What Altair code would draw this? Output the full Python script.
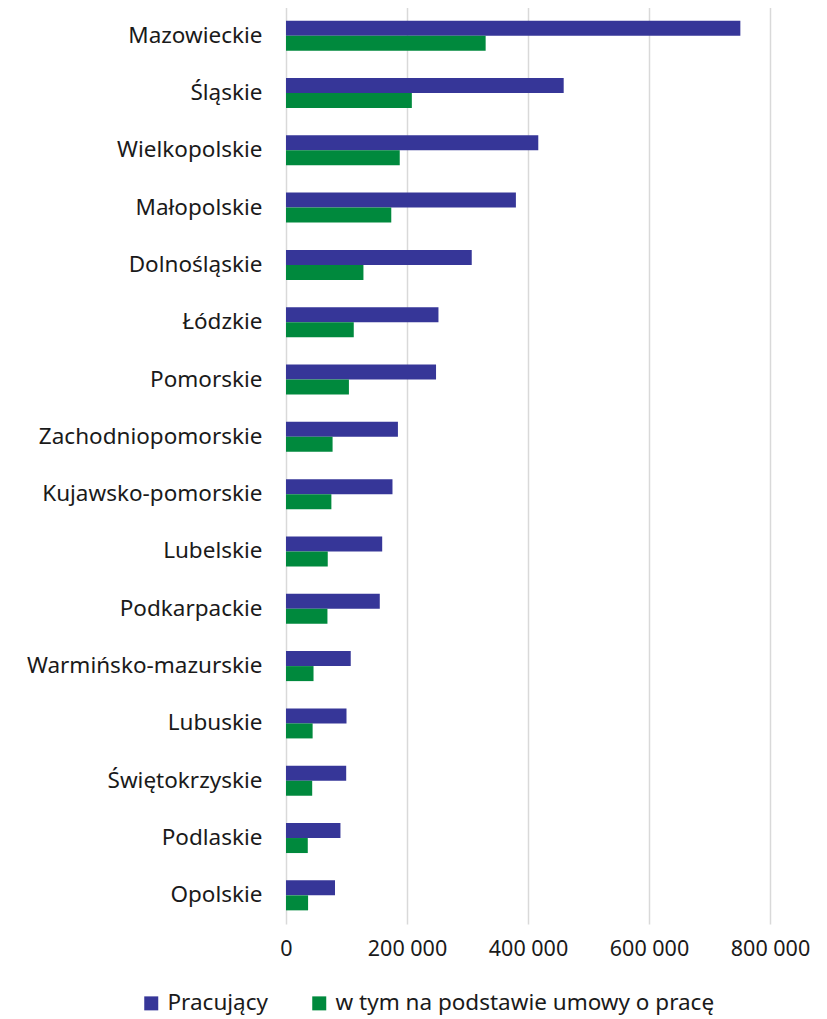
import altair as alt
import pandas as pd

regions = ["Mazowieckie", "Śląskie", "Wielkopolskie", "Małopolskie", "Dolnośląskie",
           "Łódzkie", "Pomorskie", "Zachodniopomorskie", "Kujawsko-pomorskie", "Lubelskie",
           "Podkarpackie", "Warmińsko-mazurskie", "Lubuskie", "Świętokrzyskie", "Podlaskie",
           "Opolskie"]
pracujacy = [751000, 459000, 417000, 380000, 307000, 252000, 248000, 185000, 176000,
             159000, 155000, 107000, 100000, 99500, 90000, 81000]
umowa = [330000, 208000, 188000, 174000, 128000, 112000, 104000, 77000, 75000,
         69000, 68500, 45500, 44000, 43300, 36000, 36500]
series = ["Pracujący", "w tym na podstawie umowy o pracę"]
colors = ["#363698", "#00893d"]
ticks = [0, 200000, 400000, 600000, 800000]

rows = []
for r, a, b in zip(regions, pracujacy, umowa):
    rows.append({"region": r, "series": series[0], "value": a})
    rows.append({"region": r, "series": series[1], "value": b})
df = pd.DataFrame(rows)

FONT = "Noto Sans"

chart = alt.Chart(df).mark_bar().encode(
    y=alt.Y("region:N", sort=regions, title=None,
            scale=alt.Scale(paddingInner=0.476, paddingOuter=0.238),
            axis=alt.Axis(domain=False, ticks=False, labelPadding=24, labelFontSize=22.5,
                          labelFont=FONT, labelColor="#1a1a1a", grid=False,
                          labelLimit=500)),
    yOffset=alt.YOffset("series:N", sort=series,
                        scale=alt.Scale(paddingInner=0, paddingOuter=0)),
    x=alt.X("value:Q", title=None,
            scale=alt.Scale(domain=[0, 800000], nice=False),
            axis=alt.Axis(values=ticks, domain=False, ticks=False, grid=True,
                          gridColor="#d9d9d9", gridWidth=1.5, labelFontSize=21.5,
                          labelFont=FONT, labelColor="#1a1a1a", labelPadding=14,
                          labelOverlap=False, labelFlush=False,
                          labelExpr="replace(format(datum.value, ',d'), ',', ' ')")),
    color=alt.Color("series:N", sort=series,
                    scale=alt.Scale(domain=series, range=colors),
                    legend=alt.Legend(title=None, orient="none", direction="horizontal",
                                      legendX=-146, legendY=985, symbolType="square",
                                      symbolSize=196, symbolStrokeWidth=0,
                                      labelFontSize=22.5, labelFont=FONT,
                                      labelColor="#1a1a1a", columnPadding=40,
                                      labelOffset=5, symbolOffset=0, labelLimit=600)),
).properties(
    width=484, height=917,
    autosize=alt.AutoSizeParams(type="none"),
    padding={"left": 278, "top": -1, "right": 45, "bottom": 95},
).configure_view(stroke=None)

chart.save("out.html", embed_options={"renderer": "svg", "actions": False})
